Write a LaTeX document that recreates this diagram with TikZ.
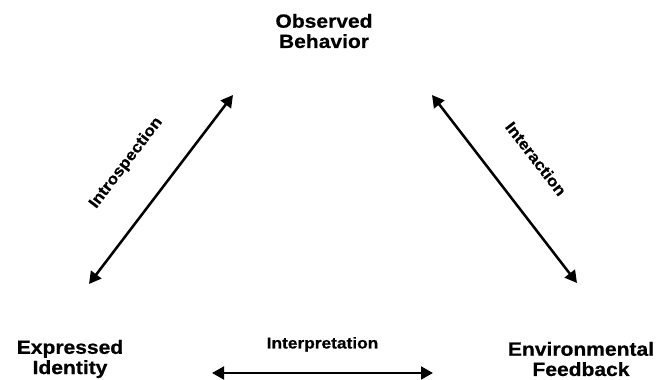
\documentclass[tikz,border=0pt]{standalone}
\usepackage{fontspec}
\newfontfamily\diagfont{Liberation Sans}[FakeStretch=1.1,FakeBold=0.6]
\usetikzlibrary{arrows.meta}

\tikzset{
  corner/.style={font=\diagfont\bfseries\fontsize{13.6}{14.4}\selectfont, align=center, inner sep=0pt},
  linklabel/.style={font=\diagfont\bfseries\fontsize{11.2}{12}\selectfont, inner sep=0pt},
  link/.style={{Triangle[length=3mm,width=3.2mm]}-{Triangle[length=3mm,width=3.2mm]}, line width=1.8pt}
}

\begin{document}
\begin{tikzpicture}
      \useasboundingbox (0,0) rectangle (16.5,9.5);
      % corners
      \node[corner] (behavior) at (8.1,8.725)   {Observed\\Behavior};
      \node[corner] (identity) at (1.75,0.525)  {Expressed\\Identity};
      \node[corner] (feedback) at (14.525,0.525) {Environmental\\Feedback};

      % arrow ends
      \coordinate (idtop)  at (2.225,2.4);
      \coordinate (behl)   at (5.825,7.125);
      \coordinate (behr)   at (10.8,7.125);
      \coordinate (fbtop)  at (14.425,2.425);
      \coordinate (idright) at (5.3,0.175);
      \coordinate (fbleft)  at (10.825,0.175);

      % links
      \draw[link] (idtop) -- node[linklabel,midway,sloped,above=0.88cm] (introspection) {Introspection} (behl);
      \draw[link] (behr) -- node[linklabel,pos=0.48,sloped,above=0.91cm] (interaction) {Interaction} (fbtop);
      \draw[link] (idright) -- node[linklabel,midway,above=0.5cm] (interpretation) {Interpretation} (fbleft);
\end{tikzpicture}
\end{document}
